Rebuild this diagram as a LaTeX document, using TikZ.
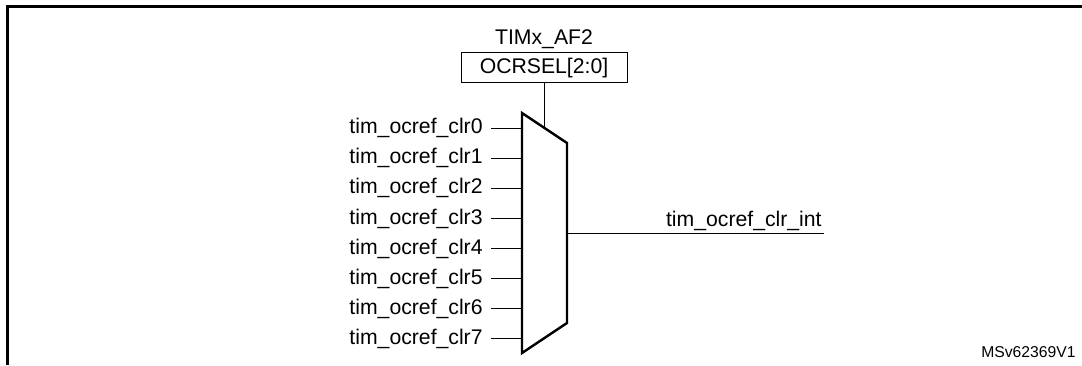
\documentclass[tikz,border=0pt]{standalone}
\usepackage{fontspec}
\setmainfont{Liberation Sans}
\usetikzlibrary{positioning}

\begin{document}
\begin{tikzpicture}[x=0.5pt,y=-0.5pt,
  sig/.style={font=\fontsize{10.6}{12}\selectfont,inner sep=0pt},
  tag/.style={font=\fontsize{7.85}{9}\selectfont,inner sep=0pt},
  wire/.style={line width=0.5pt},
  muxline/.style={line width=1.2pt,line join=miter}]
  \useasboundingbox (0,0) rectangle (1082,365);
  % frame
  \draw[line width=1.5pt] (7.5,365) -- (7.5,6) -- (1082,6);
  % mux body
  \draw[muxline,fill=white] (522,113) coordinate (mtl) -- (567,143) coordinate (mtr)
    -- (567,323) coordinate (mbr) -- (522,353) coordinate (mbl) -- cycle;
  % selector
  \node[sig,draw,line width=0.5pt,minimum width=83pt,minimum height=15pt] (sel) at (544,67.7) {OCRSEL[2:0]};
  \node[sig,anchor=base] (af) at (544,44) {TIMx\_AF2};
  \coordinate (seltap) at (544,127.7);
  \draw[wire] (sel.south) -- (seltap);
  % inputs
  \foreach \i in {0,...,7} {
    \node[sig,inner xsep=4pt,anchor=east] (in\i) at (491,128+30.14*\i) {tim\_ocref\_clr\i};
    \coordinate (m\i) at (522,128+30.14*\i);
    \draw[wire] (in\i.east) -- (m\i);
  }
  % output
  \coordinate (mout) at (567,233);
  \coordinate (outend) at (824,233);
  \draw[wire] (mout) -- (outend);
  \node[sig,anchor=base east] (outlbl) at (822,226) {tim\_ocref\_clr\_int};
  \node[tag,anchor=base east] (ref) at (1076,357) {MSv62369V1};
\end{tikzpicture}
\end{document}
